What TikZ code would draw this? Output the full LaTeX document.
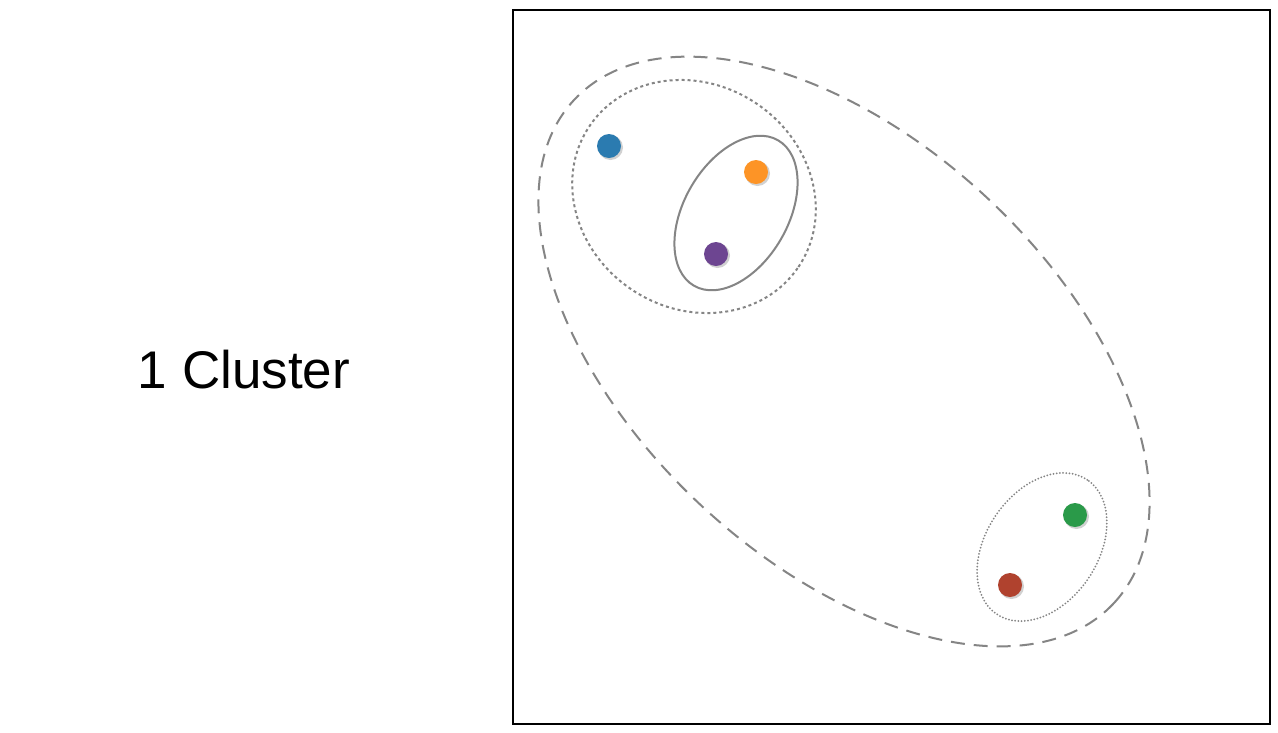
\documentclass[tikz,border=0pt]{standalone}
\usepackage{fontspec}
\setmainfont{Liberation Sans}
\begin{document}
\begin{tikzpicture}[x=1pt,y=1pt,
  ring/.style={draw=ringgray, line width=2pt},
  dot/.style={circle, inner sep=0pt, minimum size=24pt, fill=#1},
  shadowdot/.style={circle, inner sep=0pt, minimum size=25pt, fill=black, opacity=0.18}]
\definecolor{ringgray}{HTML}{858585}
\definecolor{cblue}{HTML}{2B7BB0}
\definecolor{corange}{HTML}{FD9426}
\definecolor{cpurple}{HTML}{6D4591}
\definecolor{cgreen}{HTML}{2A9A49}
\definecolor{cred}{HTML}{B0422E}
\useasboundingbox (0,0) rectangle (1278,-732);
\fill[white] (0,0) rectangle (1278,-732);
\node (label) at (244,-370) {\fontsize{53}{60}\selectfont 1 Cluster};
\draw[line width=1.5pt] (513,-10) rectangle (1270,-724);
% ellipses
\coordinate (cOuter) at (844,-351.5);
\coordinate (cMid) at (694,-196.5);
\coordinate (cInner) at (736,-213);
\coordinate (cSmall) at (1042,-547);
\draw[ring, dash pattern=on 14pt off 9pt, rotate around={-43:(cOuter)}] (cOuter) ellipse [x radius=369, y radius=210];
\draw[ring, dash pattern=on 3pt off 3pt, rotate around={-34:(cMid)}] (cMid) ellipse [x radius=126, y radius=112];
\draw[ring, rotate around={60:(cInner)}] (cInner) ellipse [x radius=84, y radius=52];
\draw[ring, line cap=round, dash pattern=on 0pt off 3.2pt, rotate around={56:(cSmall)}] (cSmall) ellipse [x radius=81, y radius=56];
% dots
\node[shadowdot] at (610.5,-147.5) {};
\node[shadowdot] at (757.5,-173.5) {};
\node[shadowdot] at (717.5,-255.5) {};
\node[shadowdot] at (1076.5,-516.5) {};
\node[shadowdot] at (1011.5,-586.5) {};
\node[dot=cblue] (blue) at (609,-146) {};
\node[dot=corange] (orange) at (756,-172) {};
\node[dot=cpurple] (purple) at (716,-254) {};
\node[dot=cgreen] (green) at (1075,-515) {};
\node[dot=cred] (red) at (1010,-585) {};
\end{tikzpicture}
\end{document}
